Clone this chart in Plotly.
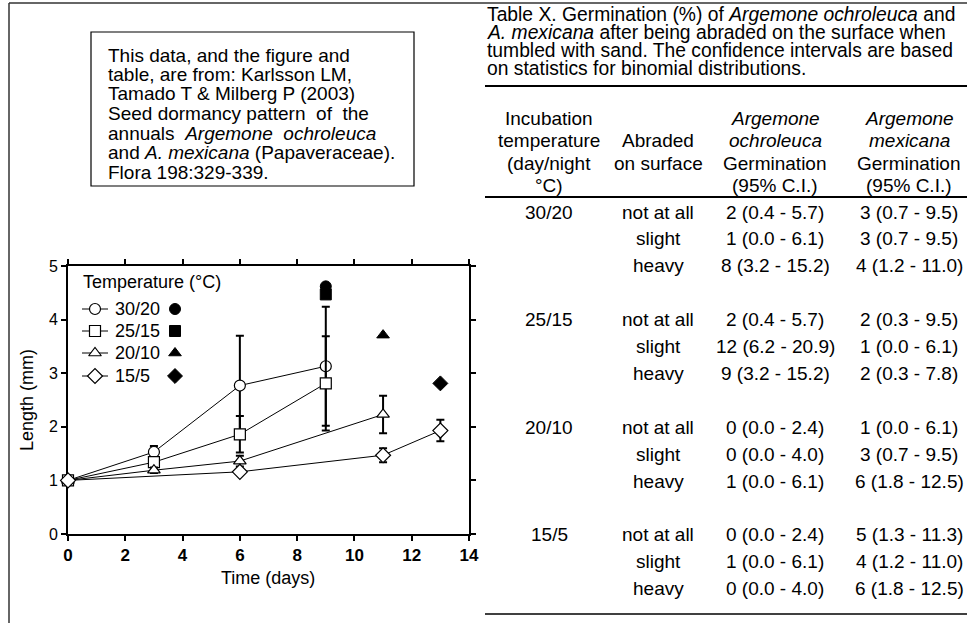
import plotly.graph_objects as go

# ---------------- data ----------------
days_3020 = [0, 3, 6, 9]
len_3020 = [1.0, 1.53, 2.77, 3.13]
err_3020 = [0, 0.11, 0.93, 1.11]

days_2515 = [0, 3, 6, 9]
len_2515 = [1.0, 1.34, 1.86, 2.81]
err_2515 = [0, 0.05, 0.34, 0.88]

days_2010 = [0, 3, 6, 11]
len_2010 = [1.0, 1.19, 1.36, 2.23]
err_2010 = [0, 0.05, 0.1, 0.35]

days_155 = [0, 6, 11, 13]
len_155 = [1.0, 1.16, 1.47, 1.93]
err_155 = [0, 0.0, 0.13, 0.2]

# filled symbols (second set)
filled_days = [9, 9, 11, 13]
filled_len = [4.62, 4.47, 3.71, 2.81]

series_names = ["30/20", "25/15", "20/10", "15/5"]
base_symbols = ["circle", "square", "triangle-up", "diamond"]

x_ticks = [0, 2, 4, 6, 8, 10, 12, 14]
y_ticks = [0, 1, 2, 3, 4, 5]

# table
tab_temps = ["30/20", "25/15", "20/10", "15/5"]
tab_abrasion = ["not at all", "slight", "heavy"]
tab_ochro = [
    ["2 (0.4 - 5.7)", "1 (0.0 - 6.1)", "8 (3.2 - 15.2)"],
    ["2 (0.4 - 5.7)", "12 (6.2 - 20.9)", "9 (3.2 - 15.2)"],
    ["0 (0.0 - 2.4)", "0 (0.0 - 4.0)", "1 (0.0 - 6.1)"],
    ["0 (0.0 - 2.4)", "1 (0.0 - 6.1)", "0 (0.0 - 4.0)"],
]
tab_mex = [
    ["3 (0.7 - 9.5)", "3 (0.7 - 9.5)", "4 (1.2 - 11.0)"],
    ["2 (0.3 - 9.5)", "1 (0.0 - 6.1)", "2 (0.3 - 7.8)"],
    ["1 (0.0 - 6.1)", "3 (0.7 - 9.5)", "6 (1.8 - 12.5)"],
    ["5 (1.3 - 11.3)", "4 (1.2 - 11.0)", "6 (1.8 - 12.5)"],
]
tab_title = [
    "Table X. Germination (%) of <i>Argemone ochroleuca</i> and",
    "<i>A. mexicana</i> after being abraded on the surface when",
    "tumbled with sand. The confidence intervals are based",
    "on statistics for binomial distributions.",
]
tab_header = [
    ["Incubation", "", "<i>Argemone</i>", "<i>Argemone</i>"],
    ["temperature", "Abraded", "<i>ochroleuca</i>", "<i>mexicana</i>"],
    ["(day/night", "on surface", "Germination", "Germination"],
    ["°C)", "", "(95% C.I.)", "(95% C.I.)"],
]
note_lines = [
    "This data, and the figure and",
    "table, are from: Karlsson LM,",
    "Tamado T & Milberg P (2003)",
    "Seed dormancy pattern  of  the",
    "annuals  <i>Argemone  ochroleuca</i>",
    "and <i>A. mexicana</i> (Papaveraceae).",
    "Flora 198:329-339.",
]

# ---------------- layout helpers ----------------
W, H = 967, 623
L, R, T, B = 68, 469, 266, 534
FONT = "Liberation Sans, Arial, sans-serif"


def px(x):
    return (x - L) / (R - L)


def py(y):
    return (B - y) / (B - T)


fig = go.Figure()

all_days = [days_3020, days_2515, days_2010, days_155]
all_len = [len_3020, len_2515, len_2010, len_155]
all_err = [err_3020, err_2515, err_2010, err_155]
sizes = [11, 11, 11, 11.5]

for i in range(4):
    fig.add_trace(go.Scatter(
        x=all_days[i], y=all_len[i], mode="lines+markers",
        line=dict(color="black", width=1),
        marker=dict(symbol=base_symbols[i], size=sizes[i], color="white",
                    line=dict(color="black", width=1.2)),
        error_y=dict(type="data", array=all_err[i], color="black",
                     thickness=2, width=4),
        cliponaxis=False, name=series_names[i],
    ))

for i in range(4):
    fig.add_trace(go.Scatter(
        x=[filled_days[i]], y=[filled_len[i]], mode="markers",
        marker=dict(symbol=base_symbols[i], size=sizes[i], color="black",
                    line=dict(color="black", width=1)),
        cliponaxis=False, name=series_names[i] + " filled",
    ))

# legend built on a pixel-unit overlay axis
leg_rows = [309, 331, 353, 376]
for i in range(4):
    fig.add_trace(go.Scatter(
        x=[82, 95, 108], y=[leg_rows[i]] * 3, mode="lines",
        line=dict(color="black", width=1), xaxis="x2", yaxis="y2",
        hoverinfo="skip", cliponaxis=False,
    ))
    fig.add_trace(go.Scatter(
        x=[95], y=[leg_rows[i]], mode="markers",
        marker=dict(symbol=base_symbols[i], size=sizes[i], color="white",
                    line=dict(color="black", width=1.2)),
        xaxis="x2", yaxis="y2", hoverinfo="skip", cliponaxis=False,
    ))
    fig.add_trace(go.Scatter(
        x=[175], y=[leg_rows[i]], mode="markers",
        marker=dict(symbol=base_symbols[i], size=sizes[i], color="black",
                    line=dict(color="black", width=1)),
        xaxis="x2", yaxis="y2", hoverinfo="skip", cliponaxis=False,
    ))

ann = []


def text(x, y, s, size=19, xanchor="left", angle=0, weight="normal"):
    ann.append(dict(x=px(x), y=py(y), xref="paper", yref="paper", text=s,
                    showarrow=False, xanchor=xanchor, yanchor="middle",
                    textangle=angle, borderpad=0,
                    font=dict(family=FONT, size=size, color="black",
                              weight=weight)))


# legend text
text(82, 282, "Temperature (°C)", size=18)
for i in range(4):
    text(114, leg_rows[i], series_names[i], size=18)

# axis titles
text(268, 578, "Time (days)", size=18, xanchor="center")
text(27, 400, "Length (mm)", size=18, xanchor="center", angle=-90)

# note box text
for k, s in enumerate(note_lines):
    text(107, 55 + 19.5 * k, s, size=19)

# table title
for k, s in enumerate(tab_title):
    text(486, 14 + 18.3 * k, s, size=19.3)

col_x = [549, 658, 775, 909]
for k, row in enumerate(tab_header):
    for c, s in enumerate(row):
        if s:
            text(col_x[c], 118 + 22.5 * k, s, size=19, xanchor="center")

for g in range(4):
    for k in range(3):
        yy = 212 + 26.9 * (g * 4 + k)
        if k == 0:
            text(col_x[0], yy, tab_temps[g], size=19, xanchor="center")
        text(col_x[1], yy, tab_abrasion[k], size=19, xanchor="center")
        text(col_x[2], yy, tab_ochro[g][k], size=19, xanchor="center")
        text(col_x[3], yy, tab_mex[g][k], size=19, xanchor="center")

shapes = []


def line(x0, y0, x1, y1, w=1.5, color="black"):
    shapes.append(dict(type="line", xref="paper", yref="paper",
                       x0=px(x0), y0=py(y0), x1=px(x1), y1=py(y1),
                       line=dict(color=color, width=w)))


# outer frame
line(9, 3, 9, 640, w=1.5, color="#333333")
line(9, 3, 980, 3, w=1.5, color="#333333")
# note box
shapes.append(dict(type="rect", xref="paper", yref="paper",
                   x0=px(91), y0=py(32), x1=px(414), y1=py(186),
                   line=dict(color="black", width=1.2), fillcolor="white",
                   layer="below"))
# table rules
line(485, 86, 967, 86, w=2)
line(485, 197, 967, 197, w=2)
line(485, 614, 967, 614, w=1.5)

axis_common = dict(showgrid=False, zeroline=False, showline=True,
                   linecolor="black", linewidth=2, ticks="outside",
                   ticklen=5, tickwidth=2, tickcolor="black",
                   mirror="ticks", layer="below traces")

fig.update_layout(
    width=W, height=H,
    margin=dict(l=L, r=W - R, t=T, b=H - B, pad=0),
    paper_bgcolor="white", plot_bgcolor="white",
    showlegend=False,
    xaxis=dict(range=[0, 14], tickvals=x_ticks,
               tickfont=dict(family=FONT, size=17, color="black",
                             weight="bold"),
               **axis_common),
    yaxis=dict(range=[0, 5], tickvals=y_ticks,
               tickfont=dict(family=FONT, size=16, color="black"),
               **axis_common),
    xaxis2=dict(range=[L, R], overlaying="x", visible=False,
                fixedrange=True),
    yaxis2=dict(range=[B, T], overlaying="y", visible=False,
                fixedrange=True),
    annotations=ann, shapes=shapes,
)

fig.write_html("out.html",
               config={"displayModeBar": False},
               post_script="document.body.style.margin='0px';")
